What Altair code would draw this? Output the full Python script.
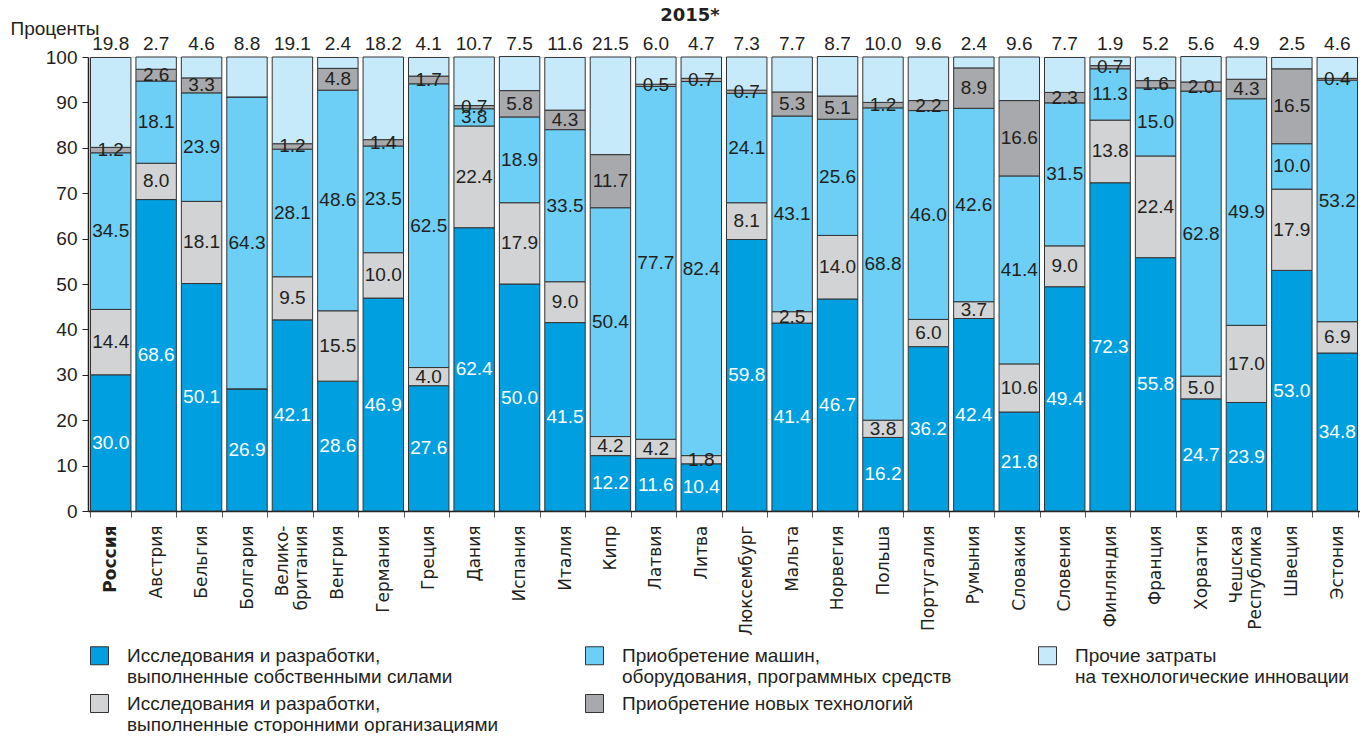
import altair as alt
import pandas as pd

countries = ["Россия", "Австрия", "Бельгия", "Болгария", "Великобритания", "Венгрия",
             "Германия", "Греция", "Дания", "Испания", "Италия", "Кипр", "Латвия", "Литва",
             "Люксембург", "Мальта", "Норвегия", "Польша", "Португалия", "Румыния",
             "Словакия", "Словения", "Финляндия", "Франция", "Хорватия",
             "Чешская Республика", "Швеция", "Эстония"]

own = [30.0, 68.6, 50.1, 26.9, 42.1, 28.6, 46.9, 27.6, 62.4, 50.0, 41.5, 12.2, 11.6, 10.4,
       59.8, 41.4, 46.7, 16.2, 36.2, 42.4, 21.8, 49.4, 72.3, 55.8, 24.7, 23.9, 53.0, 34.8]
ext = [14.4, 8.0, 18.1, 0.0, 9.5, 15.5, 10.0, 4.0, 22.4, 17.9, 9.0, 4.2, 4.2, 1.8,
       8.1, 2.5, 14.0, 3.8, 6.0, 3.7, 10.6, 9.0, 13.8, 22.4, 5.0, 17.0, 17.9, 6.9]
mach = [34.5, 18.1, 23.9, 64.3, 28.1, 48.6, 23.5, 62.5, 3.8, 18.9, 33.5, 50.4, 77.7, 82.4,
        24.1, 43.1, 25.6, 68.8, 46.0, 42.6, 41.4, 31.5, 11.3, 15.0, 62.8, 49.9, 10.0, 53.2]
tech = [1.2, 2.6, 3.3, 0.0, 1.2, 4.8, 1.4, 1.7, 0.7, 5.8, 4.3, 11.7, 0.5, 0.7,
        0.7, 5.3, 5.1, 1.2, 2.2, 8.9, 16.6, 2.3, 0.7, 1.6, 2.0, 4.3, 16.5, 0.4]
other = [19.8, 2.7, 4.6, 8.8, 19.1, 2.4, 18.2, 4.1, 10.7, 7.5, 11.6, 21.5, 6.0, 4.7,
         7.3, 7.7, 8.7, 10.0, 9.6, 2.4, 9.6, 7.7, 1.9, 5.2, 5.6, 4.9, 2.5, 4.6]

S_OWN = "Исследования и разработки,\nвыполненные собственными силами"
S_EXT = "Исследования и разработки,\nвыполненные сторонними организациями"
S_MACH = "Приобретение машин,\nоборудования, программных средств"
S_TECH = "Приобретение новых технологий"
S_OTHER = "Прочие затраты\nна технологические инновации"

stack_order = [S_OWN, S_EXT, S_MACH, S_TECH, S_OTHER]
series_values = [own, ext, mach, tech, other]
legend_order = [S_OWN, S_MACH, S_OTHER, S_EXT, S_TECH]
colors_by_series = {S_OWN: "#009FDF", S_EXT: "#D1D3D4", S_MACH: "#6DCFF6",
                    S_TECH: "#A7A9AC", S_OTHER: "#C7EAFB"}

rows = []
for si, (s, vals) in enumerate(zip(stack_order, series_values)):
    for c, v in zip(countries, vals):
        rows.append({"country": c, "series": s, "value": v, "order": si})
df = pd.DataFrame(rows)

COND = "Liberation Sans Narrow, Liberation Sans, Arial Narrow, sans-serif"
SANS = "DejaVu Sans"
DARK = "#231F20"

x_enc = alt.X(
    "country:N", sort=countries, title=None,
    scale=alt.Scale(paddingInner=0.11, paddingOuter=0.055),
    axis=alt.Axis(
        title=None, labelAngle=270, labelFont=SANS, labelFontSize=17, labelColor=DARK,
        labelFontWeight={"condition": {"test": "datum.value == 'Россия'", "value": "bold"}, "value": "normal"},
        labelOffset={"condition": {"test": "datum.value == 'Великобритания' || datum.value == 'Чешская Республика'", "value": -10}, "value": 0},
        labelExpr="datum.value == 'Великобритания' ? ['Велико-', 'британия'] : datum.value == 'Чешская Республика' ? ['Чешская', 'Республика'] : datum.value",
        labelPadding=8, labelLimit=300, tickBand="extent", tickSize=6, tickColor="#555555",
        domainColor=DARK, domainWidth=1.5,
    ),
)

base = alt.Chart(df).transform_stack(
    stack="value", groupby=["country"], sort=[alt.SortField("order")], as_=["y0", "y1"]
)

bars = base.mark_bar(stroke="#333333", strokeWidth=1).encode(
    x=x_enc,
    y=alt.Y("y0:Q", title="Проценты", scale=alt.Scale(domain=[0, 100], nice=False),
            axis=alt.Axis(title="Проценты", values=list(range(0, 101, 10)), grid=False,
                          labelFont=COND, labelFontSize=19, labelColor=DARK, labelPadding=5,
                          tickSize=6, tickColor=DARK, domainColor=DARK, domainWidth=1.5)),
    y2="y1:Q",
    color=alt.Color("series:N", scale=alt.Scale(domain=legend_order,
                                                range=[colors_by_series[s] for s in legend_order]),
                    legend=alt.Legend(orient="none", legendX=2, legendY=589, direction="horizontal",
                                      columns=3, title=None, symbolType="square", symbolSize=324,
                                      symbolStrokeColor="#333333", symbolStrokeWidth=1,
                                      labelFont=COND, labelFontSize=19, labelColor=DARK,
                                      labelLimit=700, labelOffset=18, columnPadding=84, rowPadding=5,
                                      labelExpr="split(datum.label, '\\n')")),
    order=alt.Order("order:Q"),
)

labels = base.transform_filter(
    "datum.value > 0 && datum.order < 4"
).transform_calculate(mid="(datum.y0 + datum.y1) / 2").mark_text(
    font=COND, fontSize=19, baseline="middle", align="center"
).encode(
    x=alt.X("country:N", sort=countries, title=None),
    y=alt.Y("mid:Q", title="Проценты"),
    text=alt.Text("value:Q", format=".1f"),
    color=alt.condition("datum.order == 0", alt.value("white"), alt.value(DARK)),
)

top = alt.Chart(df).transform_filter("datum.order == 4").mark_text(
    font=COND, fontSize=19, baseline="middle", align="center", dy=-13, color=DARK
).encode(
    x=alt.X("country:N", sort=countries, title=None),
    y=alt.Y(datum=100, title="Проценты"),
    text=alt.Text("value:Q", format=".1f"),
)

chart = alt.layer(bars, labels, top).properties(
    width=1272, height=454,
    title=alt.Title("2015*", font=SANS, fontSize=18, fontWeight="bold", color=DARK,
                    anchor="middle", dx=-34, offset=-6),
    autosize=alt.AutoSizeParams(type="none"),
    padding={"left": 80, "top": 49, "right": 0, "bottom": 222},
).configure_view(stroke=None).configure(background="white").configure_axisY(
    titleAngle=0, titleAlign="left", titleBaseline="middle", titleX=-78, titleY=-29,
    titleFont=COND, titleFontSize=19, titleFontWeight="normal", titleColor=DARK
)

chart.save("out.html", embed_options={"renderer": "svg", "actions": False})
